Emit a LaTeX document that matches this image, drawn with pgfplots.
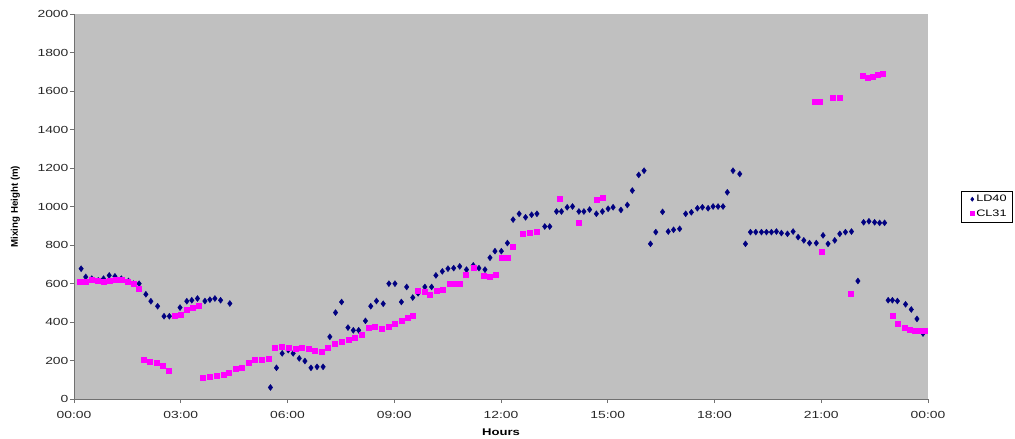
\documentclass[border=0pt]{standalone}
\usepackage{fontspec}
\setmainfont[FakeStretch=1.35]{Liberation Sans}
\newfontfamily\ylabfont{Liberation Sans}
\usepackage{pgfplots}
\pgfplotsset{compat=1.18}
\definecolor{plotgray}{HTML}{C0C0C0}
\definecolor{ldnavy}{HTML}{000080}
\definecolor{clmag}{HTML}{FF00FF}
\definecolor{axgray}{HTML}{707070}

\pgfplotstableread{
h v
0.20 677
0.33 634
0.50 625
0.68 616
0.83 625
0.99 642
1.15 637
1.33 625
1.53 613
1.67 599
1.83 599
2.02 544
2.16 508
2.35 482
2.53 430
2.68 430
2.98 475
3.17 508
3.31 513
3.47 522
3.68 509
3.82 516
3.96 522
4.12 513
4.38 496
5.52 60
5.69 162
5.85 237
6.02 254
6.16 237
6.33 211
6.49 197
6.66 162
6.83 167
7.00 167
7.19 323
7.35 449
7.52 504
7.70 371
7.85 357
8.00 357
8.19 406
8.34 482
8.50 509
8.69 495
8.85 599
9.02 599
9.20 504
9.35 582
9.52 527
9.67 549
9.86 582
10.05 582
10.17 642
10.35 663
10.51 677
10.67 680
10.84 689
11.03 672
11.22 694
11.38 680
11.55 672
11.69 734
11.83 768
12.01 768
12.18 810
12.34 932
12.51 962
12.69 944
12.86 957
13.01 962
13.23 896
13.37 896
13.56 974
13.70 974
13.86 996
14.01 1000
14.19 974
14.33 974
14.49 984
14.68 962
14.85 974
15.01 988
15.15 996
15.37 982
15.55 1008
15.69 1083
15.87 1164
16.02 1186
16.20 806
16.35 867
16.54 972
16.70 870
16.85 879
17.02 884
17.19 962
17.35 970
17.52 991
17.66 996
17.82 991
17.96 1000
18.10 1000
18.24 1000
18.36 1074
18.52 1186
18.71 1169
18.87 806
19.01 867
19.16 867
19.32 867
19.46 867
19.60 867
19.74 870
19.88 862
20.05 858
20.21 870
20.35 841
20.51 824
20.67 810
20.86 810
21.05 850
21.19 806
21.38 824
21.52 858
21.68 867
21.85 870
22.03 613
22.19 918
22.34 923
22.50 918
22.64 915
22.78 915
22.88 513
23.00 513
23.14 509
23.37 492
23.53 465
23.69 416
23.86 340
}\ldforty

\pgfplotstableread{
h v
0.17 608
0.33 610
0.50 618
0.67 615
0.83 610
1.00 612
1.17 622
1.33 618
1.50 610
1.67 598
1.83 575
1.97 202
2.14 192
2.33 188
2.50 171
2.66 147
2.83 432
3.00 440
3.17 465
3.33 475
3.50 487
3.63 110
3.82 116
4.00 119
4.20 124
4.36 136
4.54 155
4.71 163
4.90 188
5.08 202
5.27 205
5.46 211
5.65 268
5.84 271
6.03 268
6.22 262
6.40 268
6.59 262
6.77 250
6.96 245
7.14 268
7.33 285
7.52 297
7.71 306
7.89 320
8.08 332
8.27 371
8.46 375
8.64 366
8.83 378
9.02 392
9.20 406
9.39 421
9.53 431
9.67 565
9.86 556
10.00 544
10.19 565
10.37 568
10.56 599
10.70 599
10.84 599
11.01 647
11.22 680
11.50 642
11.69 637
11.85 647
12.01 734
12.18 734
12.34 789
12.62 858
12.81 862
13.01 870
13.65 1040
14.17 918
14.68 1036
14.87 1048
20.81 1545
20.96 1545
21.02 767
21.33 1563
21.52 1566
21.84 547
22.17 1678
22.31 1670
22.45 1675
22.59 1683
22.72 1690
23.01 435
23.16 389
23.34 371
23.48 361
23.62 357
23.76 357
23.90 354
}\clthirtyone

\begin{document}
\begin{tikzpicture}
\begin{axis}[
  scale only axis,
  width=854pt, height=385pt,
  xmin=0, xmax=24, ymin=0, ymax=2000,
  xtick={0,3,...,24},
  xticklabels={00:00,03:00,06:00,09:00,12:00,15:00,18:00,21:00,00:00},
  ytick={0,200,...,2000},
  axis x line*=bottom, axis y line*=left,
  axis line style={draw=axgray, line width=0.9pt},
  tick align=outside,
  major tick length=4pt,
  tick style={draw=axgray, line width=0.8pt},
  axis background/.style={fill=plotgray},
  /pgf/number format/assume math mode=true,
  /pgf/number format/1000 sep={},
  ticklabel style={font=\fontsize{10.3}{12}\selectfont, text=black!85},
  xticklabel style={yshift=-5pt},
  yticklabel style={xshift=2pt},
  every axis x label/.style={at={(axis description cs:0.5,0)}, anchor=center, yshift=-33pt},
  every axis y label/.style={at={(axis description cs:0,0.5)}, xshift=-58.5pt, rotate=90, anchor=center},
  xlabel={\fontsize{9.7}{11}\selectfont\bfseries Hours},
  ylabel={\ylabfont\fontsize{9.7}{11}\selectfont\bfseries Mixing Height (m)},
  legend style={at={(1.0386,0.5)}, anchor=west, draw=black, line width=0.6pt,
    font=\fontsize{9.4}{11}\selectfont, inner xsep=4pt, inner ysep=2pt, row sep=2.5pt,
    fill=white, nodes={inner xsep=2pt}},
  legend cell align=left,
  legend image code/.code={\path[draw=none,fill=none] (0pt,-1pt) rectangle (9pt,1pt); \draw[#1, mark size=2pt] plot coordinates {(7pt,0pt)};},
]
\addplot[only marks, mark=diamond*, mark size=3pt, color=ldnavy]
  table[x=h,y=v]{\ldforty};
\addlegendentry{LD40}
\addplot[only marks, mark=square*, mark size=2.5pt, color=clmag]
  table[x=h,y=v]{\clthirtyone};
\addlegendentry{CL31}
\end{axis}
\path (-74pt,-38pt) rectangle (941pt,399pt);
\end{tikzpicture}
\end{document}
